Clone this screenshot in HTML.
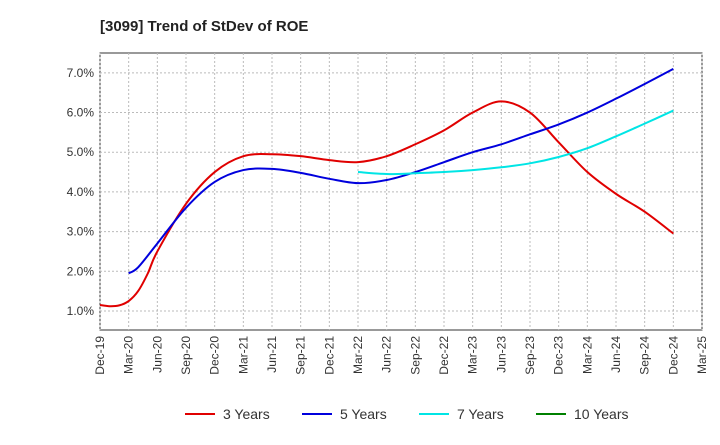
<!DOCTYPE html>
<html><head><meta charset="utf-8"><style>
body{margin:0;background:#fff;font-family:"Liberation Sans",Arial,sans-serif}
</style></head><body>
<svg id="chart" width="720" height="440" xmlns="http://www.w3.org/2000/svg" font-family="Liberation Sans, Arial, sans-serif">
<text x="100" y="31" font-size="15" font-weight="bold" fill="#222">[3099]  Trend of StDev of ROE</text>
<g id="grid"></g><g id="axes"></g><g id="series"></g><g id="legend"></g>
</svg>
<script>
const xLabels=["Dec-19","Mar-20","Jun-20","Sep-20","Dec-20","Mar-21","Jun-21","Sep-21","Dec-21","Mar-22","Jun-22","Sep-22","Dec-22","Mar-23","Jun-23","Sep-23","Dec-23","Mar-24","Jun-24","Sep-24","Dec-24","Mar-25"];
const yTicks=[1,2,3,4,5,6,7];
const x3=[0,0.33,0.67,1,1.33,1.67,2,3,4,5,6,7,8,9,10,11,12,13,14,15,16,17,18,19,20];
const y3=[1.15,1.12,1.14,1.25,1.5,1.95,2.5,3.7,4.5,4.9,4.95,4.9,4.8,4.75,4.9,5.2,5.55,6.0,6.28,6.0,5.25,4.5,3.95,3.5,2.95];
const x5=[1,1.33,2,3,4,5,6,7,8,9,10,11,12,13,14,15,16,17,18,19,20];
const y5=[1.95,2.1,2.7,3.6,4.25,4.55,4.58,4.48,4.33,4.22,4.3,4.5,4.75,5.0,5.2,5.45,5.7,6.0,6.35,6.72,7.1];
const x7=[9,10,11,12,13,14,15,16,17,18,19,20];
const y7=[4.5,4.45,4.47,4.5,4.55,4.62,4.72,4.88,5.1,5.4,5.72,6.05];
const L=100,R=702,T=53,B=330,ymin=0.52,ymax=7.5;
const X=i=>L+i*(R-L)/21, Y=v=>B-(v-ymin)*(B-T)/(ymax-ymin);
const NS="http://www.w3.org/2000/svg";
function mk(p,t,a){const e=document.createElementNS(NS,t);for(const k in a)e.setAttribute(k,a[k]);p.appendChild(e);return e;}
const g=document.getElementById('grid'),ax=document.getElementById('axes'),s=document.getElementById('series'),lg=document.getElementById('legend');
mk(g,'rect',{x:L,y:T,width:R-L,height:B-T,fill:'#fff',stroke:'#333','stroke-width':1});
xLabels.forEach((l,i)=>{const x=X(i);
 const ln=mk(g,'line',{x1:x,x2:x,y1:T,y2:B,stroke:'#bbb','stroke-dasharray':'2,2'});
 
 const t=mk(ax,'text',{transform:`translate(${x+4},${B+6}) rotate(-90)`,'text-anchor':'end','font-size':12,fill:'#333'});
 t.textContent=l;});
yTicks.forEach(v=>{const y=Y(v);
 const ln=mk(g,'line',{x1:L,x2:R,y1:y,y2:y,stroke:'#bbb','stroke-dasharray':'2,2'});
 
 const t=mk(ax,'text',{x:L-6,y:y+4,'text-anchor':'end','font-size':12,fill:'#333'});
 t.textContent=v.toFixed(1)+'%';});
function path(xs,ys){const p=xs.map((x,i)=>[X(x),Y(ys[i])]);let d='M'+p[0][0]+','+p[0][1];
 for(let i=0;i<p.length-1;i++){const p0=p[Math.max(0,i-1)],p1=p[i],p2=p[i+1],p3=p[Math.min(p.length-1,i+2)];
 d+=`C${p1[0]+(p2[0]-p0[0])/6},${p1[1]+(p2[1]-p0[1])/6} ${p2[0]-(p3[0]-p1[0])/6},${p2[1]-(p3[1]-p1[1])/6} ${p2[0]},${p2[1]}`;}return d;}
[[x3,y3,'#e00000','line-3-years'],[x5,y5,'#0000dd','line-5-years'],[x7,y7,'#00e5e5','line-7-years']].forEach(([xs,ys,c,n])=>{
 const e=mk(s,'path',{d:path(xs,ys),fill:'none',stroke:c,'stroke-width':2});
 });
[['3 Years','#e00000',185],['5 Years','#0000dd',302],['7 Years','#00e5e5',419],['10 Years','#008000',536]].forEach(([l,c,x])=>{
 const gg=mk(lg,'g',{});
 mk(gg,'line',{x1:x,x2:x+30,y1:414,y2:414,stroke:c,'stroke-width':2});
 const t=mk(gg,'text',{x:x+38,y:419,'font-size':14,fill:'#333'});t.textContent=l;});
</script>
</body></html>
